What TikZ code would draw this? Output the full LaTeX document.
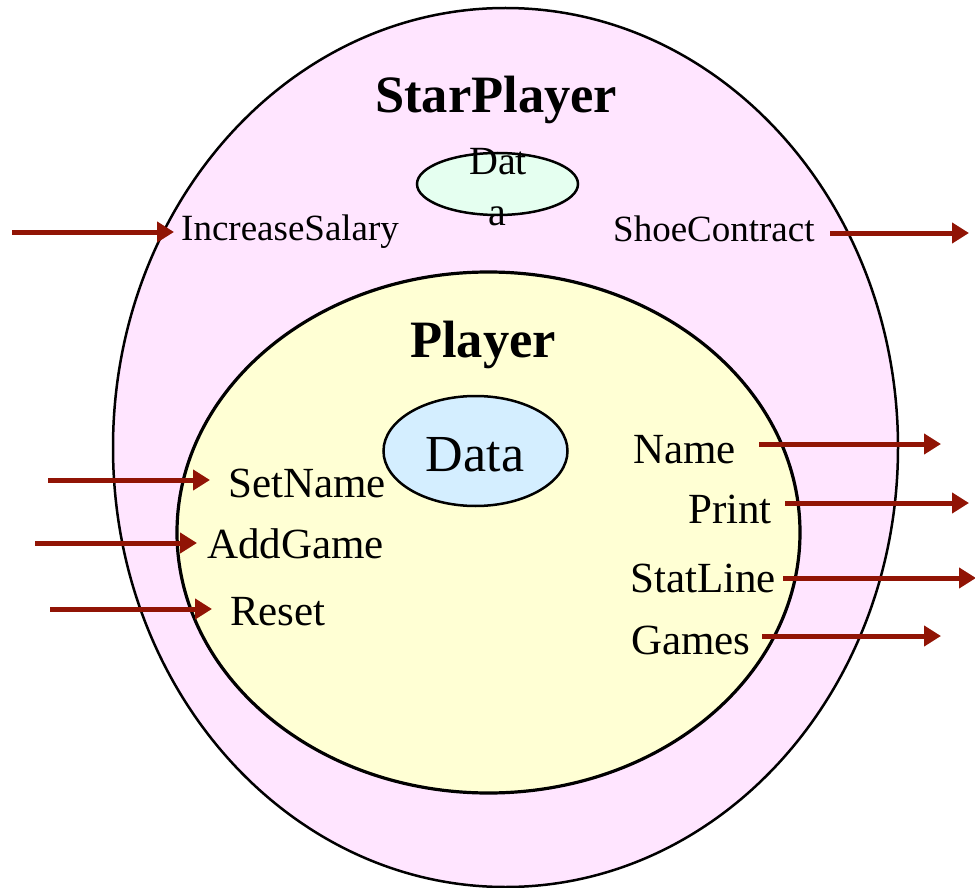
\documentclass[tikz,border=0pt]{standalone}
\usepackage{fontspec}
\setmainfont{Liberation Serif}
\usetikzlibrary{shapes.geometric,arrows.meta}
\definecolor{outerpink}{RGB}{255,229,255}
\definecolor{inneryellow}{RGB}{255,255,212}
\definecolor{datablue}{RGB}{212,238,255}
\definecolor{datagreen}{RGB}{229,255,240}
\definecolor{arrowred}{RGB}{145,20,5}
\begin{document}
\begin{tikzpicture}[x=1pt,y=-1pt,
  blob/.style={ellipse,draw=black,inner sep=0pt},
  lbl/.style={anchor=base west,inner sep=0pt,font=\fontsize{43}{48}\selectfont},
  slbl/.style={anchor=base west,inner sep=0pt,font=\fontsize{37}{44}\selectfont},
  title/.style={anchor=base west,inner sep=0pt,font=\fontsize{52.5}{60}\selectfont\bfseries},
  arr/.style={draw=arrowred,line width=5pt,-{Triangle[length=17pt,width=20pt]}}]
\useasboundingbox (0,0) rectangle (975,888);
% ellipses
\node[blob,line width=2.5pt,fill=outerpink,minimum width=785pt,minimum height=879pt] (outer) at (505.5,447.5) {};
\node[blob,line width=3.2pt,fill=inneryellow,minimum width=623pt,minimum height=521pt] (inner) at (488.5,532.5) {};
\node[blob,line width=2.5pt,fill=datablue,minimum width=184pt,minimum height=110pt] (data) at (475.5,451) {};
\node[blob,line width=2.5pt,fill=datagreen,minimum width=161pt,minimum height=62pt] (sdata) at (497.5,184) {};
% titles
\node[title] (tstar) at (375,113) {StarPlayer};
\node[title] (tplayer) at (410,357) {Player};
% data texts
\node[anchor=base,inner sep=0pt,font=\fontsize{52}{60}\selectfont] (datatxt) at (475,471) {Data};
\node[anchor=base,inner sep=0pt,font=\fontsize{40}{48}\selectfont] (sdat1) at (498,175) {Dat};
\node[anchor=base,inner sep=0pt,font=\fontsize{40}{48}\selectfont] (sdat2) at (497,225) {a};
% labels
\node[slbl] (incsal) at (181,240) {IncreaseSalary};
\node[slbl] (shoe) at (613,241) {ShoeContract};
\node[lbl] (setname) at (228,497) {SetName};
\node[lbl] (addgame) at (207,558) {AddGame};
\node[lbl] (reset) at (230,625) {Reset};
\node[lbl] (name) at (633,463) {Name};
\node[lbl] (print) at (688,523) {Print};
\node[lbl] (statline) at (630,592) {StatLine};
\node[lbl] (games) at (631,654) {Games};
% arrow coordinates
\coordinate (iIS) at (12,232);  \coordinate (eIS) at (174,232);
\coordinate (sSC) at (830,233); \coordinate (eSC) at (969,233);
\coordinate (iSN) at (48,480);  \coordinate (eSN) at (210,480);
\coordinate (iAG) at (35,543);  \coordinate (eAG) at (197,543);
\coordinate (iRS) at (50,609);  \coordinate (eRS) at (212,609);
\coordinate (sNM) at (759,444); \coordinate (eNM) at (941,444);
\coordinate (sPR) at (785,503); \coordinate (ePR) at (969,503);
\coordinate (sSL) at (783,578); \coordinate (eSL) at (976,578);
\coordinate (sGM) at (762,636); \coordinate (eGM) at (941,636);
% arrows
\draw[arr] (iIS) -- (eIS);
\draw[arr] (sSC) -- (eSC);
\draw[arr] (iSN) -- (eSN);
\draw[arr] (iAG) -- (eAG);
\draw[arr] (iRS) -- (eRS);
\draw[arr] (sNM) -- (eNM);
\draw[arr] (sPR) -- (ePR);
\draw[arr] (sSL) -- (eSL);
\draw[arr] (sGM) -- (eGM);
\end{tikzpicture}
\end{document}
